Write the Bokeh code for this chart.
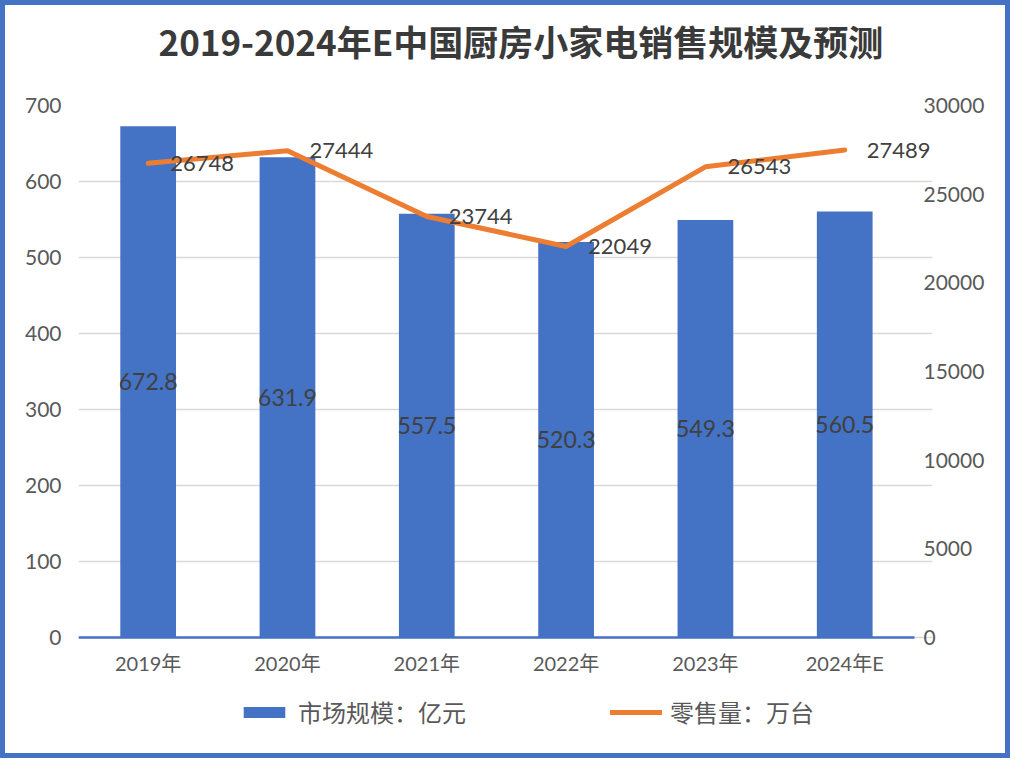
from bokeh.plotting import figure
from bokeh.models import (Range1d, LinearAxis, FixedTicker, SingleIntervalTicker,
                          Legend, LegendItem, ColumnDataSource, Title)
from bokeh.core.properties import value
from bokeh.embed import file_html
from bokeh.resources import INLINE

categories = ["2019年", "2020年", "2021年", "2022年", "2023年", "2024年E"]
market_size = [672.8, 631.9, 557.5, 520.3, 549.3, 560.5]   # 市场规模：亿元
retail_volume = [26748, 27444, 23744, 22049, 26543, 27489]  # 零售量：万台

BLUE = "#4472C4"
ORANGE = "#ED7D31"
TXT = "#595959"
LBL = "#404040"
NUM_FONT = "Lato, 'Noto Sans CJK SC'"
CJK_FONT = "'Noto Sans CJK SC'"

W, H = 1010, 758
TOP, BOTTOM = 100, 10          # min borders (px)
PLOT_H = H - TOP - BOTTOM      # frame height in px
AXIS_PX = 532                  # px between 0 and the top tick
Y1_MAX, Y2_MAX = 700, 30000
y1_lo = Y1_MAX - PLOT_H * Y1_MAX / AXIS_PX
y2_lo = y1_lo * Y2_MAX / Y1_MAX
LABEL_ROW = -25 * Y1_MAX / AXIS_PX   # category labels sit 25px under the baseline

xs = [i + 0.5 for i in range(len(categories))]

src = ColumnDataSource(dict(
    x=xs,
    size=market_size,
    half=[v / 2 for v in market_size],
    size_txt=[f"{v:.1f}" for v in market_size],
    vol=retail_volume,
    vol_txt=[str(v) for v in retail_volume],
))

p = figure(width=W, height=H, x_range=Range1d(0, len(categories) + 0.13),
           y_range=Range1d(y1_lo, Y1_MAX), output_backend="svg", toolbar_location=None,
           x_axis_location="above",
           min_border_left=73, min_border_right=83, min_border_top=TOP, min_border_bottom=BOTTOM,
           styles={"border": f"5px solid {BLUE}", "box-sizing": "border-box"})
p.extra_y_ranges = {"y2": Range1d(y2_lo, Y2_MAX)}
p.outline_line_color = None
p.background_fill_color = "white"
p.border_fill_color = "white"

# category labels (axis line hidden), drawn on a row under y = 0
xa = p.xaxis[0]
xa.fixed_location = LABEL_ROW
xa.ticker = FixedTicker(ticks=xs)
xa.major_label_overrides = {x: c for x, c in zip(xs, categories)}
xa.axis_line_color = None
xa.major_tick_line_color = None
xa.minor_tick_line_color = None
xa.major_tick_out = 0
xa.major_tick_in = 0
xa.minor_tick_out = 0
xa.major_label_text_font = NUM_FONT
xa.major_label_text_font_size = "20px"
xa.major_label_text_color = TXT
xa.major_label_text_baseline = "top"
xa.major_label_standoff = -12

# category axis line at y = 0
base = LinearAxis(ticker=FixedTicker(ticks=[]), fixed_location=0, bounds=(0, len(categories)),
                  axis_line_color=BLUE, axis_line_width=2.5,
                  major_tick_line_color=None, minor_tick_line_color=None,
                  major_tick_out=0, major_tick_in=0, minor_tick_out=0, minor_tick_in=0,
                  major_label_standoff=0)
p.add_layout(base, "above")

# spacer between title and plot area (one blank, invisible tick)
spacer = LinearAxis(ticker=FixedTicker(ticks=[xs[0]]), major_label_overrides={xs[0]: ""},
                    axis_line_color=None,
                    major_tick_line_color=None, minor_tick_line_color=None,
                    major_tick_out=35, major_tick_in=0, minor_tick_out=0, minor_tick_in=0,
                    major_label_standoff=0, major_label_text_font_size="1px")
p.add_layout(spacer, "above")

title = Title(text="2019-2024年E中国厨房小家电销售规模及预测", align="left",
              text_font=CJK_FONT, text_font_size="35px", text_font_style="bold",
              text_color="#3A3A3A", standoff=10, offset=80)
p.add_layout(title, "above")

bars = p.vbar(x="x", top="size", width=0.4, source=src, color=BLUE, line_color=None)
line = p.line(x="x", y="vol", source=src, y_range_name="y2", line_color=ORANGE,
              line_width=5, line_cap="round", line_join="round")

p.text(x="x", y="half", text="size_txt", source=src, text_align="center",
       text_baseline="middle", text_font=value(NUM_FONT), text_font_size="23px",
       text_color=LBL)
p.text(x="x", y="vol", text="vol_txt", source=src, y_range_name="y2", x_offset=22,
       text_align="left", text_baseline="middle", text_font=value(NUM_FONT),
       text_font_size="22px", text_color=LBL)

ya = p.yaxis[0]
ya.ticker = SingleIntervalTicker(interval=100)
ya.bounds = (0, Y1_MAX)
ya.axis_line_color = None
ya.major_tick_line_color = None
ya.minor_tick_line_color = None
ya.major_tick_out = 0
ya.major_label_text_font = NUM_FONT
ya.major_label_text_font_size = "21px"
ya.major_label_text_color = TXT
ya.major_label_standoff = 13

ya2 = LinearAxis(y_range_name="y2", ticker=SingleIntervalTicker(interval=5000))
ya2.bounds = (0, Y2_MAX)
ya2.axis_line_color = None
ya2.major_tick_line_color = None
ya2.minor_tick_line_color = None
ya2.major_tick_out = 0
ya2.major_label_text_font = NUM_FONT
ya2.major_label_text_font_size = "21px"
ya2.major_label_text_color = TXT
ya2.major_label_standoff = -13
p.add_layout(ya2, "right")

p.xgrid.grid_line_color = None
p.ygrid.grid_line_color = "#D9D9D9"
p.ygrid.grid_line_width = 1.5
p.ygrid.ticker = SingleIntervalTicker(interval=100)
p.ygrid.bounds = (0, Y1_MAX)

legend = Legend(items=[LegendItem(label="市场规模：亿元", renderers=[bars]),
                       LegendItem(label="零售量：万台", renderers=[line])],
                orientation="horizontal", location=(160, 24),
                glyph_width=52, glyph_height=14, label_standoff=8, spacing=144,
                padding=0, margin=0, border_line_color=None,
                background_fill_alpha=0,
                label_text_font=CJK_FONT, label_text_font_size="24px",
                label_text_color=TXT)
p.add_layout(legend, "center")

open("out.html", "w").write(file_html(p, INLINE))
